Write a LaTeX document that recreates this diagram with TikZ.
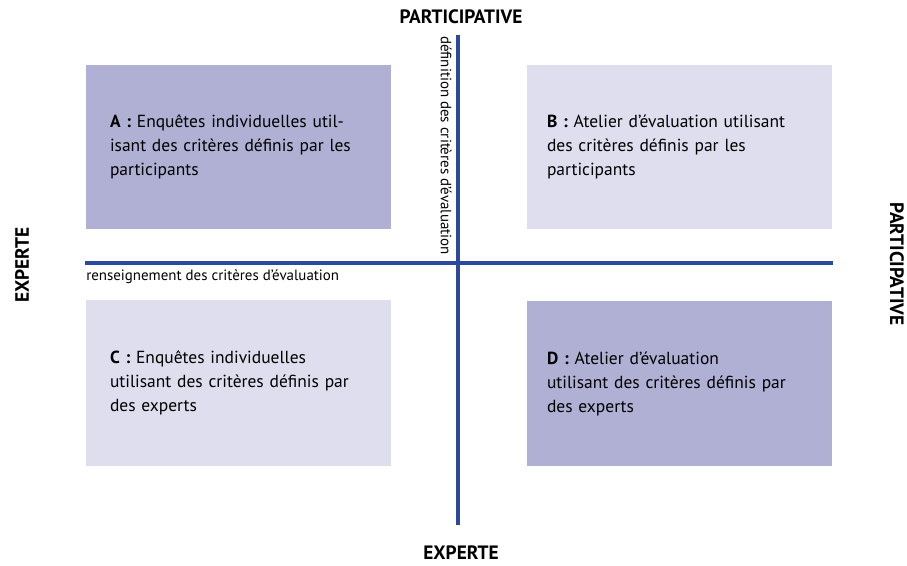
\documentclass[tikz,border=0pt]{standalone}
\usepackage{fontspec}
\setmainfont{PT Sans}
\definecolor{fonce}{HTML}{B0AFD4}
\definecolor{clair}{HTML}{DEDEEE}
\definecolor{axe}{HTML}{2C4A9B}
\tikzset{
  quadrant/.style={rectangle, minimum width=228.75pt, text width=192.75pt,
    inner xsep=18pt, align=left, font=\fontsize{13.1}{18}\selectfont},
  pole/.style={font=\bfseries\fontsize{14.5}{16}\selectfont},
  legende/.style={font=\fontsize{11.2}{13}\selectfont, inner sep=0pt}
}
\begin{document}
\begin{tikzpicture}[x=0.75pt, y=-0.75pt]
        \useasboundingbox (0,0) rectangle (907,565);

        % quadrants
        \node[quadrant, fill=fonce, minimum height=123pt] (A) at (238.5,147)
          {\textbf{A :} Enquêtes individuelles util-\\isant des critères définis par les\\participants};
        \node[quadrant, fill=clair, minimum height=123pt, inner xsep=15pt, text width=198.75pt] (B) at (679.5,147)
          {\textbf{B :} Atelier d’évaluation utilisant\\des critères définis par les\\participants};
        \node[quadrant, fill=clair, minimum height=124.5pt] (C) at (238.5,383)
          {\textbf{C :} Enquêtes individuelles\\utilisant des critères définis par\\des experts};
        \node[quadrant, fill=fonce, minimum height=123.75pt, inner xsep=15pt, text width=198.75pt] (D) at (679.5,383.5)
          {\textbf{D :} Atelier d’évaluation\\utilisant des critères définis par\\des experts};

        % axes
        \coordinate (haut) at (458,35);
        \coordinate (bas) at (458,525);
        \coordinate (gauche) at (85,263);
        \coordinate (droite) at (833,263);
        \draw[axe, line width=3pt] (haut) -- (bas);
        \draw[axe, line width=3pt] (gauche) -- (droite);

        % poles
        \node[pole] (ptop) at (461,17) {PARTICIPATIVE};
        \node[pole] (ebas) at (461,553) {EXPERTE};
        \node[pole, rotate=90] (egauche) at (22,265) {EXPERTE};
        \node[pole, rotate=-90] (pdroite) at (897,264) {PARTICIPATIVE};

        % legendes des axes
        \node[legende, rotate=-90, anchor=north west] (def) at (452,36)
          {définition des critères d’évaluation};
        \node[legende, anchor=north west] (rens) at (86,269)
          {renseignement des critères d’évaluation};
\end{tikzpicture}
\end{document}
